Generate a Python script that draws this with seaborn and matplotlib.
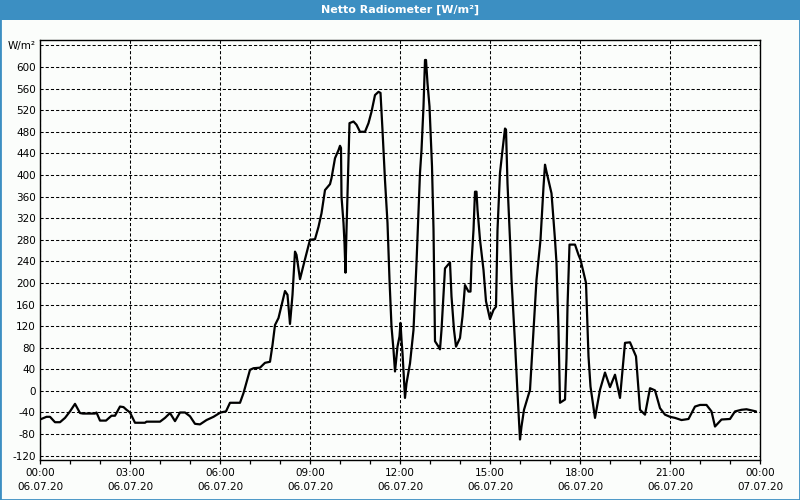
import matplotlib
matplotlib.use("Agg")
import matplotlib.pyplot as plt
from matplotlib.patches import Rectangle
import seaborn as sns
import pandas as pd

# ---- data -------------------------------------------------------------
title = "Netto Radiometer [W/m²]"
unit_label = "W/m²"

minutes = [
    0, 13, 20, 30, 40, 50, 60, 70, 80, 86, 110, 113, 120, 132, 143, 150, 160, 167, 173, 180,
    190, 210, 213, 240, 250, 260, 270, 280, 290, 300, 310, 320, 333, 347, 361, 372, 380, 400,
    407, 420, 427, 440, 450, 460, 465, 470, 477, 490, 495, 500, 505, 510, 513, 520, 527, 540,
    550, 557, 563, 570, 580, 583, 590, 597, 600, 602, 603, 607, 609, 611, 613, 619, 627, 633,
    640, 650, 657, 663, 670, 677, 681, 685, 690, 695, 699, 703, 707, 710, 715, 719, 721, 723,
    725, 730, 733, 740, 747, 753, 760, 763, 767, 770, 772, 775, 779, 781, 784, 787, 790, 797,
    800, 803, 810, 820, 823, 828, 832, 840, 845, 850, 857, 861, 863, 867, 870, 873, 875, 880,
    887, 892, 900, 907, 912, 915, 920, 925, 930, 932, 935, 940, 943, 950, 955, 960, 963, 968,
    980, 987, 993, 1001, 1007, 1010, 1013, 1023, 1030, 1033, 1037, 1040, 1050, 1053, 1055, 1059,
    1070, 1077, 1081, 1092, 1097, 1101, 1110, 1120, 1130, 1140, 1150, 1160, 1170, 1180, 1192,
    1200, 1210, 1220, 1230, 1240, 1250, 1260, 1270, 1283, 1297, 1310, 1320, 1333, 1343, 1350,
    1363, 1380, 1390, 1403, 1413, 1432,
]
values = [
    -53, -48, -48, -58, -58, -50, -38, -24, -41, -42, -42, -40, -55, -55, -46, -46, -29, -30, -35, -40,
    -59, -59, -57, -57, -50, -41, -56, -40, -40, -47, -61, -62, -54, -48, -40, -38, -22, -22,
    -4, 39, 42, 43, 52, 54, 85, 122, 135, 185, 178, 124, 178, 258, 252, 207, 233, 280,
    281, 304, 329, 372, 383, 394, 431, 446, 454, 450, 360, 311, 274, 219, 298, 496, 499, 493,
    480, 480, 496, 517, 548, 554, 552, 483, 390, 311, 206, 119, 76, 36, 82, 101, 126, 95,
    70, -13, 14, 51, 113, 237, 404, 446, 527, 613, 613, 570, 527, 484, 416, 300, 92, 82,
    77, 113, 227, 238, 175, 113, 82, 98, 138, 196, 184, 184, 237, 298, 369, 369, 336, 280,
    224, 166, 133, 150, 156, 298, 404, 446, 486, 484, 384, 280, 206, 89, -4, -90, -66, -35,
    2, 113, 206, 280, 378, 419, 406, 366, 280, 237, 113, -22, -16, 60, 156, 271,
    271, 252, 243, 200, 64, 8, -50, 2, 34, 7, 30, -13, 89, 90, 64,
    -35, -44, 5, 1, -32, -44, -48, -50, -54, -52, -29, -26, -26, -38, -66,
    -53, -52, -38, -35, -34, -38,
]

y_ticks = [-120, -80, -40, 0, 40, 80, 120, 160, 200, 240, 280, 320, 360, 400, 440, 480, 520, 560, 600, 640]
x_major_hours = [0, 3, 6, 9, 12, 15, 18, 21, 24]
x_labels = ["00:00\n06.07.20", "03:00\n06.07.20", "06:00\n06.07.20", "09:00\n06.07.20",
            "12:00\n06.07.20", "15:00\n06.07.20", "18:00\n06.07.20", "21:00\n06.07.20",
            "00:00\n07.07.20"]

# ---- style ------------------------------------------------------------
sns.set_theme(style="white")
plt.rcParams["font.family"] = ["DejaVu Sans"]

BLUE = "#3c8fc2"
BG = "#fbfdfb"

fig = plt.figure(figsize=(8, 5), dpi=100, facecolor=BG)
ax = fig.add_axes([0.05, 0.08, 0.90, 0.84])
ax.set_facecolor(BG)

df = pd.DataFrame({"hours": [m / 60 for m in minutes], "value": values})
sns.lineplot(data=df, x="hours", y="value", color="black", linewidth=1.6, ax=ax, zorder=3)

ax.set_xlim(0, 24)
ax.set_ylim(-128, 650)
ax.set_xlabel("")
ax.set_ylabel("")

ax.set_yticks(y_ticks)
ax.set_yticklabels([str(v) for v in y_ticks[:-1]] + [unit_label], fontsize=7.5, color="black")
ax.set_xticks(x_major_hours)
ax.set_xticklabels(x_labels, fontsize=7.5, color="black", linespacing=1.45)
ax.set_xticks(list(range(25)), minor=True)

ax.tick_params(axis="x", which="both", direction="out", length=3, width=0.9,
               color="black", bottom=True, pad=3)
ax.tick_params(axis="y", which="both", length=0, pad=3, left=False)

ax.grid(True, which="major", axis="both", color="black", linestyle=(0, (3, 2)), linewidth=0.75)
ax.grid(False, which="minor")

for s in ax.spines.values():
    s.set_visible(True)
    s.set_color("black")
    s.set_linewidth(1.0)

# title bar and window frame
fig.patches.append(Rectangle((0, 1 - 20 / 500), 1, 20 / 500, transform=fig.transFigure,
                             facecolor=BLUE, edgecolor="none", zorder=0))
fig.patches.append(Rectangle((0, 0), 1, 1, transform=fig.transFigure, fill=False,
                             edgecolor=BLUE, linewidth=2, zorder=1))
fig.text(0.5, 1 - 10 / 500, title, color="white", fontweight="bold", fontsize=8,
         ha="center", va="center")

fig.savefig("out.png", dpi=100, facecolor=fig.get_facecolor())
